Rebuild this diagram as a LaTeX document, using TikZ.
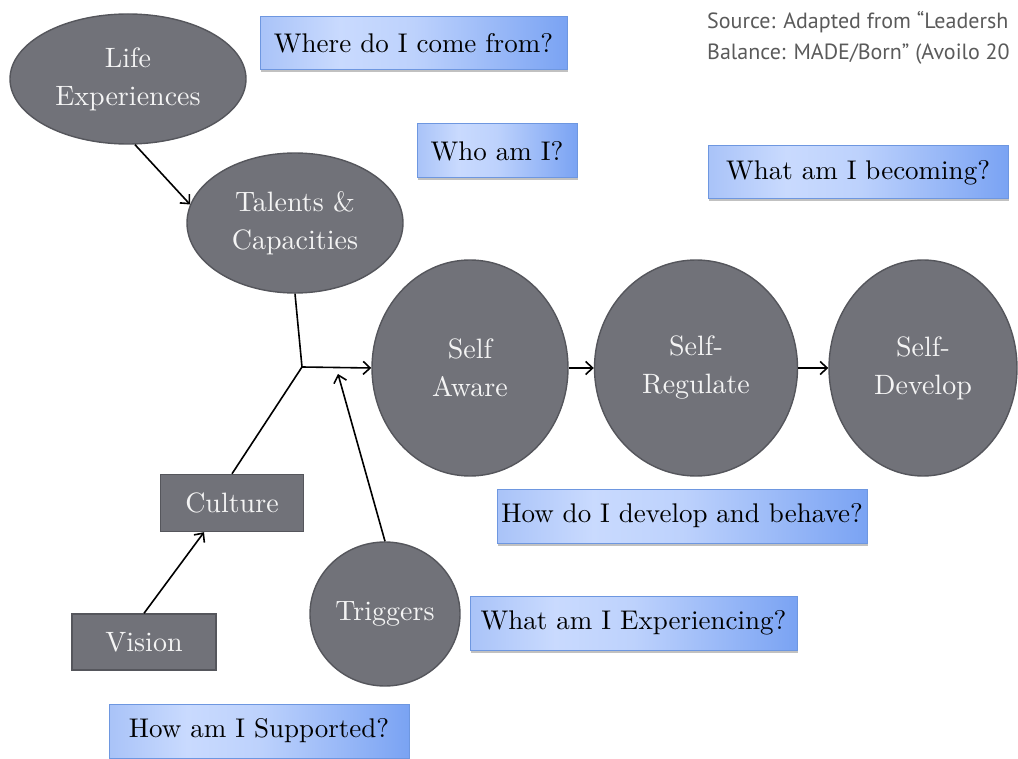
\documentclass[tikz,border=0pt]{standalone}
\usepackage{fontspec}
\setmainfont{lmroman10-regular.otf}
\newfontfamily\srcfont{PT Sans}
\usetikzlibrary{shapes.geometric,arrows.meta,shadows,calc}
\definecolor{nodegray}{HTML}{717279}
\definecolor{nodeedge}{HTML}{55565C}
\definecolor{nodetext}{HTML}{F4F4F4}
\definecolor{qleft}{HTML}{A9C3F8}
\definecolor{qmid}{HTML}{C9DAFE}
\definecolor{qright}{HTML}{7AA3F3}
\definecolor{qedge}{HTML}{6E97E0}
\definecolor{srcgray}{HTML}{5A5A5A}
\pgfdeclarehorizontalshading{qshade}{100bp}{color(0bp)=(qleft); color(25bp)=(qleft); color(38bp)=(qmid); color(50bp)=(qmid!85!qright); color(75bp)=(qright); color(100bp)=(qright)}
\tikzset{
  grayell/.style={ellipse, draw=nodeedge, line width=1.4pt, fill=nodegray, text=nodetext,
    inner sep=0pt, align=center, font=\fontsize{28}{38}\selectfont},
  graybox/.style={rectangle, draw=nodeedge, line width=1.4pt, fill=nodegray, text=nodetext,
    inner sep=0pt, align=center, font=\fontsize{28}{38}\selectfont},
  qbox/.style={rectangle, draw=qedge, line width=1pt, shading=qshade,
    text=black, inner sep=0pt, font=\fontsize{27}{32}\selectfont,
    drop shadow={shadow xshift=1pt, shadow yshift=-2.5pt, opacity=0.35, fill=black!70}},
  conn/.style={line width=1.6pt, black},
  arr/.style={conn, -{Straight Barb[length=7pt,width=13pt,line width=1.6pt]}},
}
\begin{document}
\begin{tikzpicture}[x=1pt,y=-1pt]
\useasboundingbox (0,0) rectangle (1018,759);
\clip (0,0) rectangle (1018,759);
% gray ellipses and circles
\node[grayell, minimum width=236pt, minimum height=130pt] (life) at (128,79) {Life\\Experiences};
\node[grayell, minimum width=216pt, minimum height=140pt] (tal) at (295,223) {Talents \&\\Capacities};
\node[grayell, minimum width=196pt, minimum height=216pt] (sa) at (470,368) {Self\\Aware};
\node[grayell, minimum width=203pt, minimum height=216pt] (sr) at (696,368) {Self-\\Regulate};
\node[grayell, minimum width=188pt, minimum height=216pt] (sd) at (923,368) {Self-\\Develop};
\node[grayell, minimum width=150pt, minimum height=144pt] (trg) at (385,614) {Triggers};
% gray boxes
\node[graybox, minimum width=143pt, minimum height=57pt] (cul) at (232,503) {Culture};
\node[graybox, minimum width=144pt, minimum height=56pt] (vis) at (144,642) {Vision};
% question boxes
\node[qbox, minimum width=307pt, minimum height=53pt] (q1) at (413.5,43.5) {Where do I come from?};
\node[qbox, minimum width=160pt, minimum height=54pt] (q2) at (497,151) {Who am I?};
\node[qbox, minimum width=300pt, minimum height=53pt] (q3) at (858,172.5) {What am I becoming?};
\node[qbox, minimum width=370pt, minimum height=54pt] (q4) at (682,516) {How do I develop and behave?};
\node[qbox, minimum width=327pt, minimum height=54pt] (q5) at (633.5,623) {What am I Experiencing?};
\node[qbox, minimum width=300pt, minimum height=54pt] (q6) at (259,731) {How am I Supported?};
% source
\node[anchor=base west, inner sep=0pt, text=srcgray, font=\srcfont\fontsize{22}{26}\selectfont] (src1) at (707,29) {Source: Adapted from “Leadersh};
\node[anchor=base west, inner sep=0pt, text=srcgray, font=\srcfont\fontsize{22}{26}\selectfont] (src2) at (707,60) {Balance: MADE/Born” (Avoilo 20};
% connectors
\coordinate (J) at (302,367);
\coordinate (T) at (338,374);
\draw[arr] ([xshift=7pt]life.south) -- (tal.170);
\draw[conn] (tal.south) -- (J);
\draw[conn] (cul.north) -- (J);
\draw[arr] (J) -- (sa.west);
\draw[arr] (vis.north) -- ($(cul.south)+(-28,0)$);
\draw[arr] (trg.north) -- (T);
\draw[arr] (sa.east) -- (sr.west);
\draw[arr] (sr.east) -- (sd.west);
\end{tikzpicture}
\end{document}
